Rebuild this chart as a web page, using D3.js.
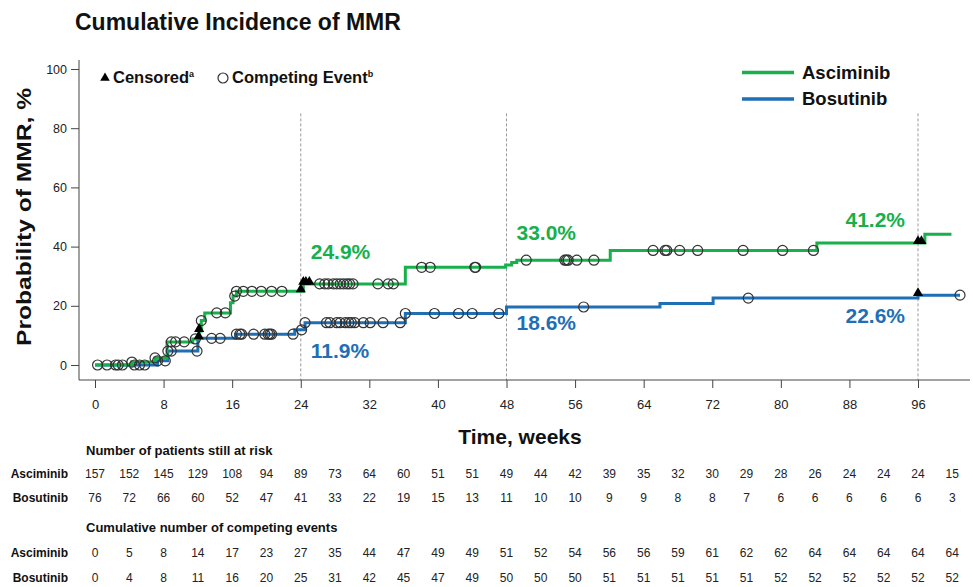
<!DOCTYPE html>
<html>
<head>
<meta charset="utf-8">
<script src="https://cdn.jsdelivr.net/npm/d3@7"></script>
<style>
  html, body { margin: 0; padding: 0; background: #fff; }
  svg { display: block; font-family: "Liberation Sans", Arial, Helvetica, sans-serif; }
</style>
</head>
<body>
<svg id="chart" width="973" height="587"></svg>
<script>
// ---------------- DATA ----------------
const seriesNames = ["Asciminib", "Bosutinib"];

// Step functions (time in weeks, cumulative incidence %)
const ascTimes  = [0, 4.3, 7.0, 8.4, 11.4, 12.15, 12.4, 12.8, 15.8, 16.1, 16.5, 24.3, 36.2, 47.9, 48.6, 49.2, 60.1, 84.2, 96.8, 99.9];
const ascValues = [0, 1.0, 2.4, 7.8, 8.8, 11.5, 15.0, 17.6, 21.0, 23.3, 24.9, 27.4, 33.0, 33.8, 34.6, 35.4, 38.7, 41.2, 44.2, 44.2];

const bosTimes  = [0, 7.3, 8.5, 12.0, 16.4, 23.3, 24.5, 36.2, 48.0, 65.9, 72.1, 96.0, 100.9];
const bosValues = [0, 1.4, 4.7, 9.0, 10.4, 11.9, 14.3, 17.4, 19.6, 20.8, 22.6, 23.6, 23.6];

// Competing events (open circles) and censored (triangles), times in weeks
const ascCompeting = [0.3, 1.4, 2.4, 4.3, 7.0, 8.9, 9.4, 10.4, 11.7, 12.4, 14.2, 15.2, 16.3, 16.5, 17.3, 18.3, 19.4, 20.6, 21.8,
  26.2, 26.8, 27.2, 27.8, 28.2, 28.6, 29.0, 29.4, 29.7, 30.1, 33.0, 34.2, 34.8, 38.1, 39.1, 44.3, 44.4,
  50.3, 54.8, 55.0, 55.2, 56.2, 58.2, 65.1, 66.5, 66.7, 68.2, 70.3, 75.6, 80.2, 83.8];
const bosCompeting = [2.7, 3.2, 4.6, 5.2, 5.8, 7.3, 8.2, 8.5, 8.9, 11.9, 13.6, 14.6, 16.5, 16.9, 17.1, 18.5, 19.8, 20.2, 20.4, 20.6,
  23.1, 24.1, 24.5, 27.0, 27.4, 28.2, 28.6, 29.2, 29.6, 29.9, 30.3, 31.3, 32.1, 33.6, 35.6, 36.2,
  39.6, 42.4, 44.0, 47.1, 57.0, 76.2, 100.9];
const ascCensored = [12.15, 24.0, 24.3, 24.6, 25.0, 96.0, 96.4];
const bosCensored = [12.1, 96.0];

// Landmark annotations
const landmarkWeeks = [24, 48, 96];
const ascLandmarkLabels = ["24.9%", "33.0%", "41.2%"];
const bosLandmarkLabels = ["11.9%", "18.6%", "22.6%"];

// Axis ticks
const xTicks = [0, 8, 16, 24, 32, 40, 48, 56, 64, 72, 80, 88, 96];
const yTicks = [0, 20, 40, 60, 80, 100];

// Risk table
const tableWeeks = [0, 4, 8, 12, 16, 20, 24, 28, 32, 36, 40, 44, 48, 52, 56, 60, 64, 68, 72, 76, 80, 84, 88, 92, 96, 100];
const ascAtRisk = [157, 152, 145, 129, 108, 94, 89, 73, 64, 60, 51, 51, 49, 44, 42, 39, 35, 32, 30, 29, 28, 26, 24, 24, 24, 15];
const bosAtRisk = [76, 72, 66, 60, 52, 47, 41, 33, 22, 19, 15, 13, 11, 10, 10, 9, 9, 8, 8, 7, 6, 6, 6, 6, 6, 3];
const ascCompetingCum = [0, 5, 8, 14, 17, 23, 27, 35, 44, 47, 49, 49, 51, 52, 54, 56, 56, 59, 61, 62, 62, 64, 64, 64, 64, 64];
const bosCompetingCum = [0, 4, 8, 11, 16, 20, 25, 31, 42, 45, 47, 49, 50, 50, 50, 51, 51, 51, 51, 51, 52, 52, 52, 52, 52, 52];

// ---------------- DRAW ----------------
const GREEN = "#17b04a";
const BLUE = "#1f6fb6";
const svg = d3.select("#chart");

const x = d3.scaleLinear().domain([0, 100]).range([95, 952.3]);
const y = d3.scaleLinear().domain([0, 100]).range([365, 69]);

function stepAt(times, values, t) {
  let v = values[0];
  for (let i = 0; i < times.length; i++) { if (times[i] <= t) v = values[i]; }
  return v;
}

// Title
svg.append("text").attr("x", 75).attr("y", 30)
  .attr("font-size", 23).attr("font-weight", "bold").attr("fill", "#111")
  .text("Cumulative Incidence of MMR");

// Dashed landmark lines
svg.append("g").selectAll("line").data(landmarkWeeks).join("line")
  .attr("x1", d => x(d)).attr("x2", d => x(d))
  .attr("y1", y(85)).attr("y2", 380)
  .attr("stroke", "#9a9a9a").attr("stroke-width", 1).attr("stroke-dasharray", "3,2");

// Y axis
const yAxis = svg.append("g").attr("transform", "translate(79,0)")
  .call(d3.axisLeft(y).tickValues(yTicks).tickSize(8).tickPadding(4));
yAxis.select(".domain").remove();
yAxis.selectAll(".tick line").attr("stroke", "#444");
yAxis.selectAll(".tick text").attr("font-size", 12.5).attr("fill", "#222")
  .attr("font-family", "Liberation Sans, Arial, sans-serif");
svg.append("line").attr("x1", 79).attr("x2", 79).attr("y1", 60).attr("y2", 380)
  .attr("stroke", "#444").attr("stroke-width", 1);

// X axis
const xAxis = svg.append("g").attr("transform", "translate(0,380)")
  .call(d3.axisBottom(x).tickValues(xTicks).tickSize(8).tickPadding(12));
xAxis.select(".domain").remove();
xAxis.selectAll(".tick line").attr("stroke", "#444");
xAxis.selectAll(".tick text").attr("font-size", 13).attr("fill", "#222")
  .attr("font-family", "Liberation Sans, Arial, sans-serif");
svg.append("line").attr("x1", 79).attr("x2", 970).attr("y1", 380).attr("y2", 380)
  .attr("stroke", "#444").attr("stroke-width", 1);

// Axis titles
svg.append("text").attr("transform", "translate(31,217) rotate(-90)")
  .attr("text-anchor", "middle").attr("font-size", 21).attr("font-weight", "bold").attr("fill", "#111")
  .attr("textLength", 258).attr("lengthAdjust", "spacingAndGlyphs")
  .text("Probability of MMR, %");
svg.append("text").attr("x", 520).attr("y", 444)
  .attr("text-anchor", "middle").attr("font-size", 21).attr("font-weight", "bold").attr("fill", "#111")
  .text("Time, weeks");

// Step lines
const line = d3.line().curve(d3.curveStepAfter).x(d => x(d[0])).y(d => y(d[1]));
const ascPts = ascTimes.map((t, i) => [t, ascValues[i]]);
const bosPts = bosTimes.map((t, i) => [t, bosValues[i]]);
svg.append("path").datum(bosPts).attr("d", line).attr("fill", "none")
  .attr("stroke", BLUE).attr("stroke-width", 3);
svg.append("path").datum(ascPts).attr("d", line).attr("fill", "none")
  .attr("stroke", GREEN).attr("stroke-width", 3);

// Competing event circles
function drawCircles(times, stepT, stepV) {
  svg.append("g").selectAll("circle").data(times).join("circle")
    .attr("cx", d => x(d)).attr("cy", d => y(stepAt(stepT, stepV, d)))
    .attr("r", 5).attr("fill", "none").attr("stroke", "#333").attr("stroke-width", 1.2);
}
drawCircles(bosCompeting, bosTimes, bosValues);
drawCircles(ascCompeting, ascTimes, ascValues);

// Censored triangles
const tri = d3.symbol().type(d3.symbolTriangle).size(45);
function drawTriangles(times, stepT, stepV) {
  svg.append("g").selectAll("path").data(times).join("path")
    .attr("d", tri)
    .attr("transform", d => `translate(${x(d)},${y(stepAt(stepT, stepV, d)) - 2})`)
    .attr("fill", "#000");
}
drawTriangles(bosCensored, bosTimes, bosValues);
drawTriangles(ascCensored, ascTimes, ascValues);

// Landmark annotations (last landmark label sits left of its line)
const ascLabelY = [259, 240, 227];
const bosLabelY = [358, 330, 323];
const labelAnchor = ["start", "start", "end"];
const labelOffset = [10, 10, -13];
landmarkWeeks.forEach((w, i) => {
  svg.append("text").attr("x", x(w) + labelOffset[i]).attr("y", ascLabelY[i]).attr("text-anchor", labelAnchor[i])
    .attr("font-size", 21).attr("font-weight", "bold").attr("fill", GREEN).text(ascLandmarkLabels[i]);
  svg.append("text").attr("x", x(w) + labelOffset[i]).attr("y", bosLabelY[i]).attr("text-anchor", labelAnchor[i])
    .attr("font-size", 21).attr("font-weight", "bold").attr("fill", BLUE).text(bosLandmarkLabels[i]);
});

// Top-left legend (symbols)
svg.append("path").attr("d", d3.symbol().type(d3.symbolTriangle).size(40))
  .attr("transform", "translate(105,78)").attr("fill", "#000");
const t1 = svg.append("text").attr("x", 113).attr("y", 83)
  .attr("font-size", 16.5).attr("font-weight", "bold").attr("fill", "#111");
t1.append("tspan").text("Censored");
t1.append("tspan").attr("font-size", 9).attr("dy", -6).text("a");
svg.append("circle").attr("cx", 223).attr("cy", 78).attr("r", 5)
  .attr("fill", "none").attr("stroke", "#333").attr("stroke-width", 1.2);
const t2 = svg.append("text").attr("x", 232).attr("y", 83)
  .attr("font-size", 16.5).attr("font-weight", "bold").attr("fill", "#111");
t2.append("tspan").text("Competing Event");
t2.append("tspan").attr("font-size", 9).attr("dy", -6).text("b");

// Top-right legend (series)
const legendColors = [GREEN, BLUE];
const legendY = [72.5, 99];
seriesNames.forEach((name, i) => {
  svg.append("line").attr("x1", 742).attr("x2", 794).attr("y1", legendY[i]).attr("y2", legendY[i])
    .attr("stroke", legendColors[i]).attr("stroke-width", 3.5);
  svg.append("text").attr("x", 802).attr("y", legendY[i] + 6)
    .attr("font-size", 18.5).attr("font-weight", "bold").attr("fill", "#111").text(name);
});

// Risk table
function tableHeader(label, yy) {
  svg.append("text").attr("x", 86).attr("y", yy).attr("font-size", 13)
    .attr("font-weight", "bold").attr("fill", "#111").text(label);
}
function tableRow(name, vals, yy) {
  svg.append("text").attr("x", 68).attr("y", yy).attr("text-anchor", "end")
    .attr("font-size", 12).attr("font-weight", "bold").attr("fill", "#111").text(name);
  svg.append("g").selectAll("text").data(vals).join("text")
    .attr("x", (d, i) => x(tableWeeks[i])).attr("y", yy).attr("text-anchor", "middle")
    .attr("font-size", 12).attr("fill", "#222").text(d => d);
}
tableHeader("Number of patients still at risk", 455);
tableRow(seriesNames[0], ascAtRisk, 477.5);
tableRow(seriesNames[1], bosAtRisk, 501.5);
tableHeader("Cumulative number of competing events", 532);
tableRow(seriesNames[0], ascCompetingCum, 557);
tableRow(seriesNames[1], bosCompetingCum, 581.5);
</script>
</body>
</html>
